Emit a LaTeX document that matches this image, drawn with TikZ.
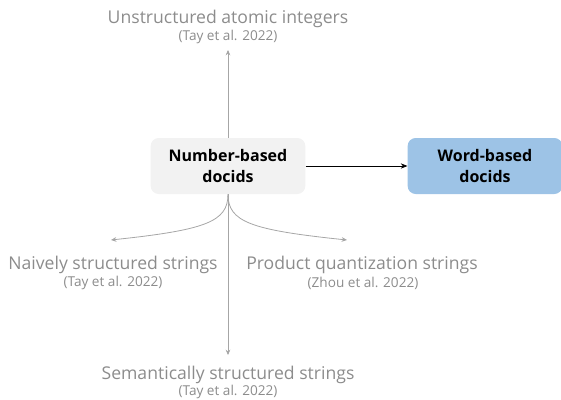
\documentclass[tikz,border=0pt]{standalone}
\usepackage{fontspec}
\setmainfont{Open Sans}
\usetikzlibrary{arrows.meta}
\definecolor{txtgray}{HTML}{8C8C8C}
\definecolor{linegray}{HTML}{A6A6A6}
\definecolor{boxgray}{HTML}{F2F2F2}
\definecolor{boxblue}{HTML}{9DC3E6}
\tikzset{
  box/.style={rounded corners=6pt, minimum width=116pt, minimum height=42pt, align=center, font=\fontsize{12}{15.5}\selectfont\bfseries, text=black},
  lbl/.style={align=center, text=txtgray, inner sep=0pt},
  title/.style={font=\fontsize{13.2}{15}\selectfont},
  cite/.style={font=\fontsize{10.2}{12}\selectfont},
  garrow/.style={draw=linegray, line width=0.6pt, -{Stealth[length=4pt,width=3.5pt,fill=gray!90]}},
}
\begin{document}
\begin{tikzpicture}[x=0.75pt,y=-0.75pt]
\useasboundingbox (0,0) rectangle (561,400);
\node[box, fill=boxgray] (num) at (228,166) {Number-based\\docids};
\node[box, fill=boxblue] (word) at (485,166) {Word-based\\docids};
\draw[line width=0.6pt, -{Stealth[length=5pt,width=4pt]}] (num.east) -- (word.west);

\node[lbl, title] (top) at (228,18.5) {Unstructured atomic integers};
\node[lbl, cite] (topc) at (228,36.5) {(Tay et al. 2022)};
\coordinate (topend) at (228,50);
\draw[garrow] (num.north) -- (topend);

\node[lbl, title] (left) at (113,264.5) {Naively structured strings};
\node[lbl, cite] (leftc) at (113,282.5) {(Tay et al. 2022)};
\coordinate (leftend) at (111,240);
\draw[garrow] (num.south) .. controls (228,222) and (205,230) .. (leftend);

\node[lbl, title] (right) at (362,264.5) {Product quantization strings};
\node[lbl, cite] (rightc) at (363,283.5) {(Zhou et al. 2022)};
\coordinate (rightend) at (347,240);
\draw[garrow] (num.south) .. controls (228,222) and (251,230) .. (rightend);

\node[lbl, title] (bot) at (228,374.5) {Semantically structured strings};
\node[lbl, cite] (botc) at (228,391.5) {(Tay et al. 2022)};
\coordinate (botend) at (228,355);
\draw[garrow] (num.south) -- (botend);
\end{tikzpicture}
\end{document}
